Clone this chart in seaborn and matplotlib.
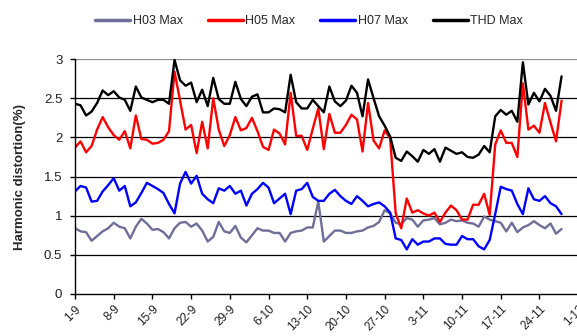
import pandas as pd
import matplotlib
matplotlib.use("Agg")
import matplotlib.pyplot as plt
import matplotlib.dates as mdates
import seaborn as sns


# =========================
# 1. data (daily maxima, 1-9 .. 28-11)
# =========================
START = "2009-09-01"
N_DAYS = 89

h03_max = [
    0.84, 0.80, 0.79, 0.68, 0.74, 0.80, 0.84, 0.91, 0.86, 0.84,
    0.71, 0.86, 0.96, 0.90, 0.82, 0.83, 0.79, 0.71, 0.84, 0.91,
    0.92, 0.86, 0.90, 0.81, 0.67, 0.73, 0.92, 0.80, 0.78, 0.87,
    0.72, 0.66, 0.75, 0.84, 0.81, 0.81, 0.78, 0.78, 0.67, 0.78,
    0.80, 0.81, 0.85, 0.85, 1.18, 0.67, 0.74, 0.81, 0.81, 0.78,
    0.78, 0.80, 0.81, 0.85, 0.87, 0.92, 1.07, 1.03, 0.91, 0.89,
    0.97, 0.95, 0.86, 0.94, 0.95, 0.97, 0.89, 0.91, 0.95, 0.93,
    0.94, 0.91, 0.90, 0.86, 0.99, 0.95, 0.93, 0.91, 0.80, 0.91,
    0.79, 0.85, 0.88, 0.93, 0.88, 0.84, 0.90, 0.77, 0.83,
]

h05_max = [
    1.87, 1.95, 1.81, 1.89, 2.10, 2.26, 2.13, 2.03, 1.97, 2.08,
    1.86, 2.28, 1.98, 1.97, 1.92, 1.93, 1.97, 2.08, 2.84, 2.47,
    2.10, 2.16, 1.80, 2.20, 1.86, 2.50, 2.10, 1.89, 2.03, 2.26,
    2.09, 2.12, 2.25, 2.08, 1.88, 1.84, 2.10, 2.05, 1.91, 2.57,
    2.02, 2.02, 1.84, 2.11, 2.37, 1.85, 2.30, 2.06, 2.06, 2.16,
    2.29, 2.23, 1.82, 2.44, 1.96, 1.86, 2.09, 1.99, 1.03, 0.84,
    1.22, 1.04, 1.07, 1.03, 1.00, 1.04, 0.92, 1.04, 1.13, 1.07,
    0.95, 0.95, 1.14, 1.14, 1.28, 1.01, 1.91, 2.09, 1.93, 1.93,
    1.75, 2.69, 2.10, 2.15, 2.06, 2.44, 2.19, 1.95, 2.47,
]

h07_max = [
    1.31, 1.38, 1.36, 1.18, 1.19, 1.31, 1.39, 1.48, 1.32, 1.38,
    1.12, 1.17, 1.29, 1.42, 1.38, 1.34, 1.29, 1.15, 1.03, 1.41,
    1.56, 1.41, 1.51, 1.28, 1.21, 1.16, 1.35, 1.32, 1.38, 1.28,
    1.32, 1.13, 1.28, 1.34, 1.42, 1.36, 1.16, 1.22, 1.28, 1.02,
    1.32, 1.34, 1.42, 1.24, 1.19, 1.19, 1.28, 1.33, 1.25, 1.19,
    1.15, 1.25, 1.19, 1.12, 1.15, 1.17, 1.12, 1.04, 0.71, 0.69,
    0.57, 0.70, 0.63, 0.67, 0.67, 0.71, 0.71, 0.64, 0.63, 0.63,
    0.74, 0.70, 0.70, 0.61, 0.57, 0.69, 1.02, 1.37, 1.34, 1.32,
    1.15, 1.02, 1.35, 1.21, 1.19, 1.25, 1.16, 1.12, 1.02,
]

thd_max = [
    2.43, 2.41, 2.28, 2.33, 2.44, 2.60, 2.54, 2.59, 2.51, 2.48,
    2.34, 2.65, 2.51, 2.48, 2.45, 2.48, 2.48, 2.43, 2.99, 2.73,
    2.66, 2.70, 2.45, 2.61, 2.40, 2.76, 2.49, 2.43, 2.43, 2.71,
    2.49, 2.40, 2.52, 2.55, 2.32, 2.32, 2.37, 2.36, 2.32, 2.80,
    2.45, 2.37, 2.37, 2.48, 2.40, 2.32, 2.65, 2.46, 2.40, 2.47,
    2.66, 2.57, 2.27, 2.74, 2.50, 2.27, 2.15, 2.01, 1.74, 1.70,
    1.82, 1.76, 1.69, 1.84, 1.79, 1.85, 1.69, 1.87, 1.83, 1.79,
    1.81, 1.75, 1.74, 1.78, 1.89, 1.81, 2.27, 2.35, 2.29, 2.34,
    2.20, 2.96, 2.42, 2.57, 2.46, 2.62, 2.53, 2.34, 2.78,
]

series_names = ["H03 Max", "H05 Max", "H07 Max", "THD Max"]
series_colors = ["#6E6E98", "#FF0000", "#0000FF", "#000000"]
y_ticks = [0, 0.5, 1, 1.5, 2, 2.5, 3]
y_labels = ["0", "0.5", "1", "1.5", "2", "2.5", "3"]


# =========================
# 2. long table for seaborn
# =========================
dates = pd.date_range(START, periods=N_DAYS, freq="D")
wide = pd.DataFrame(
    {"date": dates, "H03 Max": h03_max, "H05 Max": h05_max,
     "H07 Max": h07_max, "THD Max": thd_max}
)
df = wide.melt(id_vars="date", var_name="series", value_name="value")


# =========================
# 3. plot
# =========================
sns.set_style("white")
plt.rcParams["font.family"] = ["Liberation Sans", "DejaVu Sans"]

fig = plt.figure(figsize=(5.77, 3.36), dpi=100)
ax = fig.add_axes([0.130, 0.125, 0.872, 0.699])

sns.lineplot(
    data=df, x="date", y="value", hue="series",
    hue_order=series_names, palette=series_colors,
    linewidth=1.7, ax=ax, legend=False,
)

# grid / frame like the old spreadsheet chart
ax.set_ylim(0, 3)
ax.set_yticks(y_ticks)
ax.set_yticklabels(y_labels, fontsize=9.5, color="#222222")
for v in y_ticks[1:-1]:
    ax.axhline(v, color="black", linewidth=0.9, zorder=0)
ax.axhline(3, color="#8c8c8c", linewidth=0.9, zorder=0)

week_ticks = pd.date_range(START, periods=14, freq="7D")
ax.set_xlim(week_ticks[0], week_ticks[-1])
ax.set_xticks(week_ticks)
ax.xaxis.set_major_formatter(
    matplotlib.ticker.FuncFormatter(
        lambda v, pos: "{}-{}".format(mdates.num2date(v).day, mdates.num2date(v).month)
    )
)
plt.setp(ax.get_xticklabels(), rotation=45, ha="right", rotation_mode="anchor",
         fontsize=8.5, color="#222222")

for s in ["top", "right"]:
    ax.spines[s].set_visible(False)
ax.spines["left"].set_color("black")
ax.spines["bottom"].set_color("black")
ax.spines["left"].set_linewidth(1.0)
ax.spines["bottom"].set_linewidth(1.0)
ax.tick_params(axis="both", direction="out", length=3.6, width=1.0, color="black",
               left=True, bottom=True)
ax.tick_params(axis="y", pad=5.5)
ax.tick_params(axis="x", pad=3)

ax.set_xlabel("")
ax.set_ylabel("Harmonic distortion(%)", fontsize=9.5, fontweight="bold")
ax.yaxis.set_label_coords(-0.098, 0.5)

# legend on top
handles = [plt.Line2D([], [], color=c, linewidth=2.5) for c in series_colors]
fig.legend(handles, series_names, loc="center", bbox_to_anchor=(0.536, 0.937),
           ncol=4, frameon=False, fontsize=9, handlelength=2.8,
           handletextpad=0.2, columnspacing=2.0)

plt.savefig("out.png", dpi=100)
